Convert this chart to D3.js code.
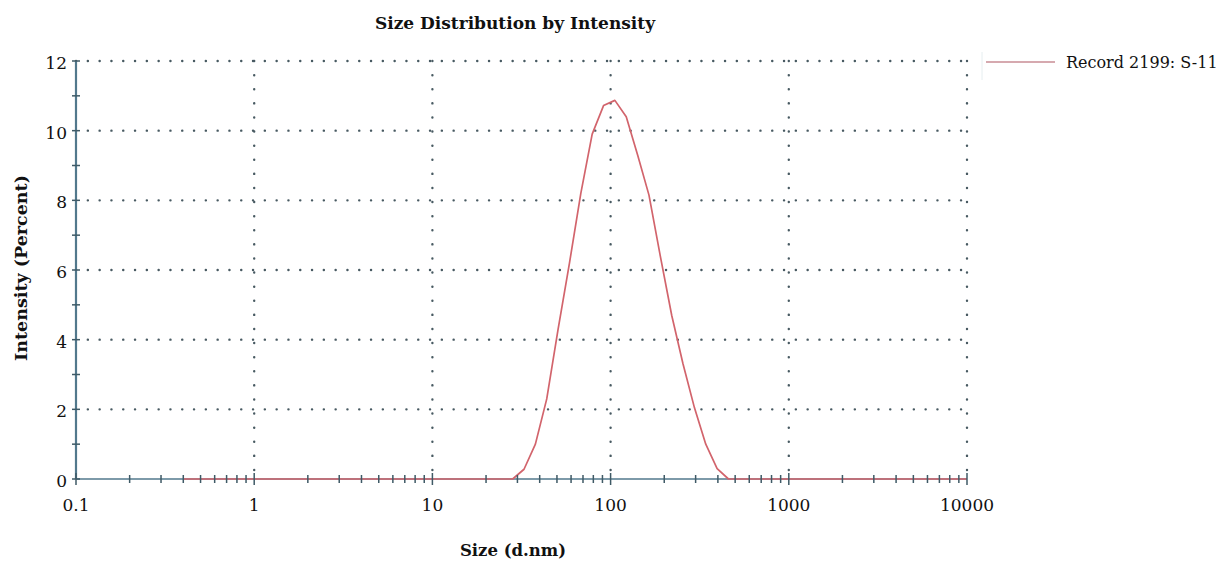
<!DOCTYPE html>
<html>
<head>
<meta charset="utf-8">
<script src="https://cdn.jsdelivr.net/npm/d3@7"></script>
<style>
  body { margin: 0; background: #fff; }
  text { font-family: "DejaVu Serif", "Liberation Serif", serif; fill: #111; }
</style>
</head>
<body>
<div class="canvas"></div>
<script>
// size bins (d.nm) and intensity (%)
const sizes = [0.4, 0.4632, 0.5365, 0.6213, 0.7195, 0.8332, 0.9649, 1.117, 1.294, 1.499,
  1.736, 2.01, 2.328, 2.696, 3.122, 3.615, 4.187, 4.849, 5.615, 6.503,
  7.531, 8.721, 10.1, 11.7, 13.54, 15.69, 18.17, 21.04, 24.36, 28.21,
  32.67, 37.84, 43.82, 50.75, 58.77, 68.06, 78.82, 91.28, 105.7, 122.4,
  141.8, 164.2, 190.1, 220.2, 255.0, 295.3, 342.0, 396.1, 458.7, 531.2,
  615.1, 712.4, 825.0, 955.4, 1106, 1281, 1484, 1718, 1990, 2305,
  2669, 3091, 3580, 4145, 4801, 5560, 6439, 7456, 8635, 10000];
const intensity = [0, 0, 0, 0, 0, 0, 0, 0, 0, 0,
  0, 0, 0, 0, 0, 0, 0, 0, 0, 0,
  0, 0, 0, 0, 0, 0, 0, 0, 0, 0,
  0.28, 1.0, 2.3, 4.3, 6.2, 8.2, 9.9, 10.72, 10.87, 10.4,
  9.3, 8.15, 6.4, 4.7, 3.3, 2.05, 1.0, 0.3, 0, 0,
  0, 0, 0, 0, 0, 0, 0, 0, 0, 0,
  0, 0, 0, 0, 0, 0, 0, 0, 0, 0];

const xMajor = [0.1, 1, 10, 100, 1000, 10000];
const xLabels = ['0.1', '1', '10', '100', '1000', '10000'];
const yMajor = [0, 2, 4, 6, 8, 10, 12];
const yMinor = [1, 3, 5, 7, 9, 11];
const seriesName = 'Record 2199: S-11';

const svg = d3.select('.canvas').append('svg')
    .attr('width', 1220)
    .attr('height', 564);

const x = d3.scaleLog().domain([0.1, 10000]).range([76, 967]);
const y = d3.scaleLinear().domain([0, 12]).range([479, 61]);

const gridColor = '#485a62';
const axisColor = '#52788c';
const tickColor = '#3f5a66';

// dotted grid
svg.append('g').selectAll('line')
    .data(yMajor.filter(d => d > 0))
    .join('line')
    .attr('x1', x(0.1)).attr('x2', x(10000))
    .attr('y1', d => y(d)).attr('y2', d => y(d))
    .attr('stroke', gridColor)
    .attr('stroke-width', 2.4)
    .attr('stroke-linecap', 'round')
    .attr('stroke-dasharray', '0.1,11.7');

svg.append('g').selectAll('line')
    .data(xMajor.filter(d => d > 0.1))
    .join('line')
    .attr('x1', d => x(d)).attr('x2', d => x(d))
    .attr('y1', y(12)).attr('y2', y(0))
    .attr('stroke', gridColor)
    .attr('stroke-width', 2.4)
    .attr('stroke-linecap', 'round')
    .attr('stroke-dasharray', '0.1,14');

// axes
svg.append('line')
    .attr('x1', x(0.1)).attr('x2', x(10000))
    .attr('y1', y(0)).attr('y2', y(0))
    .attr('stroke', axisColor).attr('stroke-width', 1.5);

svg.append('line')
    .attr('x1', x(0.1)).attr('x2', x(0.1))
    .attr('y1', y(0)).attr('y2', y(12))
    .attr('stroke', axisColor).attr('stroke-width', 2.2);

// data line
const line = d3.line()
    .x((d, i) => x(sizes[i]))
    .y(d => y(d));

svg.append('path')
    .datum(intensity)
    .attr('d', line)
    .attr('fill', 'none')
    .attr('stroke', '#d2646c')
    .attr('stroke-width', 1.7)
    .attr('stroke-linejoin', 'round');

// x ticks (minor from the log scale, major at decades)
svg.append('g').selectAll('line')
    .data(x.ticks().filter(d => !xMajor.includes(d)))
    .join('line')
    .attr('x1', d => x(d)).attr('x2', d => x(d))
    .attr('y1', y(0) - 4).attr('y2', y(0) + 4)
    .attr('stroke', tickColor).attr('stroke-width', 1.5);

svg.append('g').selectAll('line')
    .data(xMajor)
    .join('line')
    .attr('x1', d => x(d)).attr('x2', d => x(d))
    .attr('y1', y(0) - 6).attr('y2', y(0) + 6)
    .attr('stroke', tickColor).attr('stroke-width', 1.5);

// y ticks
svg.append('g').selectAll('line')
    .data(yMajor.concat(yMinor))
    .join('line')
    .attr('x1', x(0.1) - 4).attr('x2', x(0.1) + 4)
    .attr('y1', d => y(d)).attr('y2', d => y(d))
    .attr('stroke', tickColor).attr('stroke-width', 1.5);

// tick labels
svg.append('g').selectAll('text')
    .data(xMajor)
    .join('text')
    .attr('x', d => x(d))
    .attr('y', 511)
    .attr('text-anchor', 'middle')
    .style('font-size', '17px')
    .text((d, i) => xLabels[i]);

svg.append('g').selectAll('text')
    .data(yMajor)
    .join('text')
    .attr('x', 67)
    .attr('y', d => y(d) + 8)
    .attr('text-anchor', 'end')
    .style('font-size', '17px')
    .text(d => d);

// titles
svg.append('text')
    .attr('x', 515).attr('y', 29)
    .attr('text-anchor', 'middle')
    .style('font-size', '17px').style('font-weight', 'bold')
    .text('Size Distribution by Intensity');

svg.append('text')
    .attr('x', 513).attr('y', 556)
    .attr('text-anchor', 'middle')
    .style('font-size', '16.5px').style('font-weight', 'bold')
    .text('Size (d.nm)');

svg.append('text')
    .attr('transform', 'translate(27, 268) rotate(-90)')
    .attr('text-anchor', 'middle')
    .style('font-size', '17.5px').style('font-weight', 'bold')
    .text('Intensity (Percent)');

// legend
svg.append('line')
    .attr('x1', 982).attr('x2', 982)
    .attr('y1', 52).attr('y2', 80)
    .attr('stroke', '#e6eef0').attr('stroke-width', 1);

svg.append('line')
    .attr('x1', 986).attr('x2', 1055)
    .attr('y1', 62).attr('y2', 62)
    .attr('stroke', '#c98d94').attr('stroke-width', 1.5);

svg.append('text')
    .attr('x', 1066).attr('y', 68)
    .style('font-size', '16px')
    .text(seriesName);
</script>
</body>
</html>
